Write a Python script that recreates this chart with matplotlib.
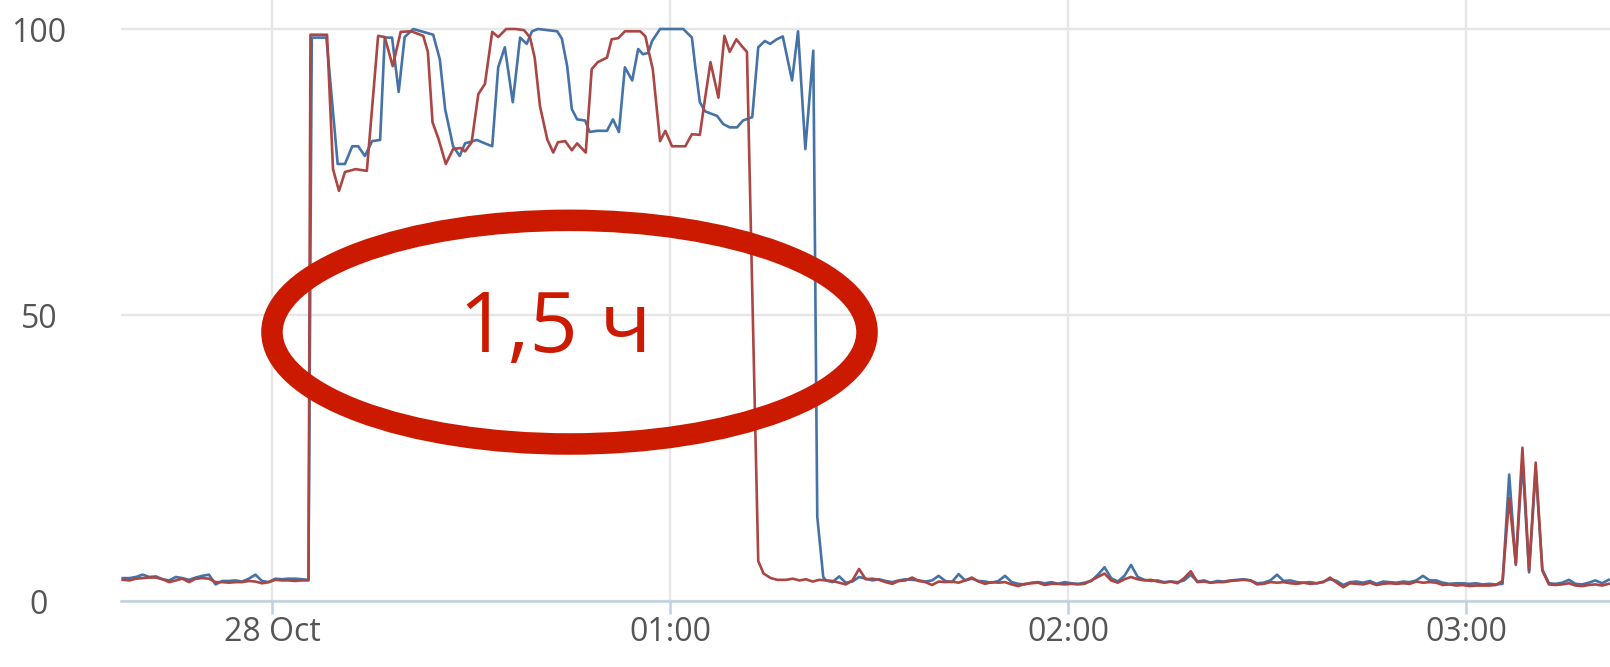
import numpy as np
import matplotlib
matplotlib.use("Agg")
import matplotlib.pyplot as plt
from matplotlib.patches import Ellipse

# time is in minutes after midnight of 28 Oct
tick_minutes = [0, 60, 120, 180]
tick_labels = ["28 Oct", "01:00", "02:00", "03:00"]
y_ticks = [0, 50, 100]

# quiet stretch before the load, one sample a minute
pre_t = np.arange(-22.5, 6.0, 1.0)
blue_pre = [4.0, 4.0, 4.2, 4.6, 4.2, 4.3, 3.8, 3.6, 4.2, 4.0,
            3.7, 4.1, 4.4, 4.6, 2.9, 3.5, 3.5, 3.6, 3.4, 3.9,
            4.6, 3.5, 3.3, 3.9, 3.8, 3.9, 3.9, 3.8, 3.7]
red_pre = [3.7, 3.6, 3.9, 4.0, 4.1, 4.1, 3.8, 3.3, 3.6, 3.9,
           3.3, 3.9, 4.0, 3.9, 3.3, 3.3, 3.2, 3.3, 3.3, 3.5,
           3.4, 3.1, 3.3, 3.7, 3.6, 3.6, 3.5, 3.6, 3.6]

# the 1.5 h busy period
blue_act_t = [6.0, 8.2, 9.9, 11.0, 12.1, 13.0, 14.0, 15.1, 16.3, 17.0,
              18.1, 19.1, 20.0, 21.3, 24.3, 25.3, 26.1, 27.3, 28.3, 29.1,
              30.9, 32.1, 33.2, 34.1, 35.1, 36.3, 37.4, 38.4, 39.2, 40.1,
              43.0, 43.7, 44.5, 45.2, 46.0, 47.2, 47.9, 49.0, 50.5, 51.4,
              52.3, 53.2, 54.3, 55.2, 55.9, 56.7, 57.3, 58.5, 62.0, 63.3,
              63.8, 64.5, 65.3, 67.1, 68.0, 69.0, 70.1, 71.0, 72.4, 73.3,
              74.3, 75.1, 76.1, 77.0, 78.4, 79.3, 80.4, 81.6, 82.2, 83.1]
blue_act = [98.5, 98.5, 76.4, 76.4, 79.5, 79.5, 77.8, 80.4, 80.6, 98.5,
            98.5, 89.0, 98.6, 100.0, 99.0, 94.7, 86.0, 79.5, 77.8, 80.0,
            80.6, 80.0, 79.5, 93.3, 96.8, 87.2, 98.5, 97.4, 99.6, 100.0,
            99.6, 98.3, 93.5, 86.0, 84.2, 84.0, 82.0, 82.2, 82.2, 84.2,
            82.0, 93.3, 91.0, 96.5, 95.6, 95.8, 97.9, 100.0, 100.0, 98.5,
            93.5, 87.2, 85.6, 84.8, 83.4, 82.8, 82.8, 84.0, 84.6, 96.8,
            97.9, 97.4, 98.2, 98.7, 91.0, 99.6, 79.0, 96.2, 14.7, 4.2]

red_act_t = [5.8, 8.3, 9.2, 10.1, 11.0, 12.6, 14.3, 16.0, 17.0, 18.2,
             19.4, 21.0, 22.8, 23.5, 24.2, 25.1, 26.2, 27.3, 28.4, 29.1,
             30.1, 31.1, 32.1, 33.2, 34.1, 35.3, 36.7, 38.0, 38.9, 39.6,
             40.4, 41.5, 42.4, 43.1, 44.2, 45.2, 46.0, 47.3, 48.2, 49.1,
             50.5, 51.2, 52.2, 53.2, 55.5, 56.3, 56.7, 57.4, 58.5, 59.3,
             60.3, 62.3, 63.3, 64.5, 65.2, 66.1, 67.3, 68.2, 69.0, 70.0,
             70.9, 71.6, 73.3, 74.1, 75.2, 76.2]
red_act = [99.0, 99.0, 75.5, 71.7, 75.0, 75.5, 75.2, 98.8, 98.6, 93.5,
           99.5, 99.6, 98.8, 96.0, 83.7, 80.8, 76.4, 79.0, 79.2, 78.6,
           80.2, 88.6, 90.4, 99.5, 98.6, 100.0, 100.0, 99.8, 98.5, 95.0,
           86.5, 80.7, 78.4, 80.2, 80.4, 78.8, 80.0, 78.4, 93.0, 94.2,
           95.0, 98.2, 98.4, 99.6, 99.6, 98.7, 96.5, 93.0, 80.4, 82.2,
           79.5, 79.5, 81.6, 81.5, 87.2, 94.2, 88.0, 98.8, 96.0, 98.2,
           96.9, 96.0, 7.0, 4.8, 4.0, 3.7]

# quiet stretch after the load
blue_post_t = np.arange(83.5, 202.0, 1.0)
blue_post = [3.6, 3.3, 4.3, 3.2, 3.4, 4.2, 3.9, 3.6, 3.8, 3.5,
             3.3, 3.6, 3.8, 3.7, 3.6, 3.4, 3.6, 4.4, 3.5, 3.3,
             4.7, 3.6, 3.9, 3.5, 3.4, 3.2, 3.5, 4.4, 3.3, 3.0,
             2.9, 3.2, 3.3, 3.1, 3.3, 3.0, 3.3, 3.1, 3.0, 3.2,
             3.5, 4.6, 5.9, 4.0, 3.4, 4.4, 6.3, 4.2, 3.7, 3.5,
             3.6, 3.3, 3.4, 3.3, 3.6, 4.6, 3.4, 3.6, 3.2, 3.5,
             3.4, 3.6, 3.7, 3.8, 3.6, 3.1, 3.2, 3.6, 4.6, 3.5,
             3.6, 3.3, 3.2, 3.3, 3.1, 3.4, 3.8, 3.5, 2.8, 3.3,
             3.4, 3.2, 3.5, 3.0, 3.4, 3.3, 3.2, 3.4, 3.3, 3.6,
             4.4, 3.6, 3.6, 3.2, 3.0, 3.1, 3.1, 3.0, 3.1, 2.9,
             3.0, 2.9, 3.0, 22.1, 6.3, 24.5, 5.0, 23.0, 5.5, 3.1,
             3.0, 3.2, 3.7, 3.0, 2.9, 3.2, 3.6, 3.1, 3.7]
red_post_t = np.arange(77.5, 202.0, 1.0)
red_post = [3.7, 3.9, 3.6, 3.8, 3.4, 3.7, 3.6, 3.5, 3.2, 2.9,
            3.6, 5.6, 3.8, 3.9, 3.7, 3.3, 3.0, 3.5, 3.6, 4.1,
            3.5, 3.3, 2.8, 3.4, 3.3, 3.4, 3.2, 3.6, 4.1, 3.4,
            3.0, 3.3, 3.2, 3.3, 2.9, 2.6, 3.0, 3.1, 3.2, 2.8,
            3.0, 3.0, 2.9, 3.0, 2.9, 3.0, 3.6, 4.2, 4.8, 3.6,
            3.2, 3.8, 4.2, 3.8, 3.6, 3.7, 3.4, 3.2, 3.4, 3.1,
            4.0, 5.2, 3.3, 3.4, 3.2, 3.3, 3.3, 3.5, 3.6, 3.7,
            3.6, 2.9, 3.0, 3.3, 3.2, 3.3, 3.1, 3.0, 3.2, 3.0,
            3.1, 3.3, 4.1, 3.2, 2.4, 3.1, 3.0, 2.9, 3.2, 2.8,
            3.0, 3.1, 3.0, 3.1, 3.0, 3.4, 3.2, 3.3, 3.2, 2.8,
            2.9, 2.7, 2.8, 2.6, 2.7, 2.7, 2.7, 2.8, 3.5, 18.0,
            6.5, 26.8, 5.3, 24.2, 5.3, 2.9, 2.8, 2.9, 3.1, 2.7,
            2.6, 2.8, 2.9, 2.7, 3.0]

blue_t = np.concatenate([pre_t, blue_act_t, blue_post_t])
blue_v = np.concatenate([blue_pre, blue_act, blue_post])
red_t = np.concatenate([pre_t, red_act_t, red_post_t])
red_v = np.concatenate([red_pre, red_act, red_post])

# hand drawn mark: centre (min, %), width (min), height (%)
mark_xy = (44.85, 47.0)
mark_w, mark_h = 89.7, 39.1
mark_text = "1,5 ч"
mark_red = "#cc1a00"

plt.rcParams["font.family"] = ["Open Sans", "DejaVu Sans"]

fig = plt.figure(figsize=(16.10, 6.67), dpi=100)
ax = fig.add_axes([121 / 1610, 1 - 601 / 667, 1 - 121 / 1610, 601 / 667])

ax.plot(blue_t, blue_v, color="#4572a7", lw=1.9, zorder=3)
ax.plot(red_t, red_v, color="#aa4643", lw=1.9, zorder=4)

ax.add_patch(Ellipse(mark_xy, mark_w, mark_h, fill=False,
                     ec=mark_red, lw=15.5, zorder=6))
ax.text(mark_xy[0] - 2.2, mark_xy[1] + 0.4, mark_text, color=mark_red,
        fontsize=61, ha="center", va="center", zorder=7)

ax.set_xlim(-22.76, 201.7)
ax.set_ylim(0, 105.07)
ax.set_xticks(tick_minutes)
ax.set_xticklabels(tick_labels)
ax.set_yticks(y_ticks)

ax.grid(True, color="#e6e6e6", lw=1.7)
ax.set_axisbelow(True)
for side in ["left", "top", "right"]:
    ax.spines[side].set_visible(False)
ax.spines["bottom"].set_color("#c0d0e0")
ax.spines["bottom"].set_linewidth(1.8)
ax.spines["bottom"].set_zorder(5)

ax.tick_params(axis="x", colors="#c0d0e0", length=9.5, width=1.8,
               labelcolor="#555555", labelsize=23, pad=1)
ax.tick_params(axis="y", length=0, labelcolor="#555555", labelsize=23, pad=59)
for lab in ax.get_yticklabels():
    lab.set_horizontalalignment("center")

fig.savefig("out.png", dpi=100)
